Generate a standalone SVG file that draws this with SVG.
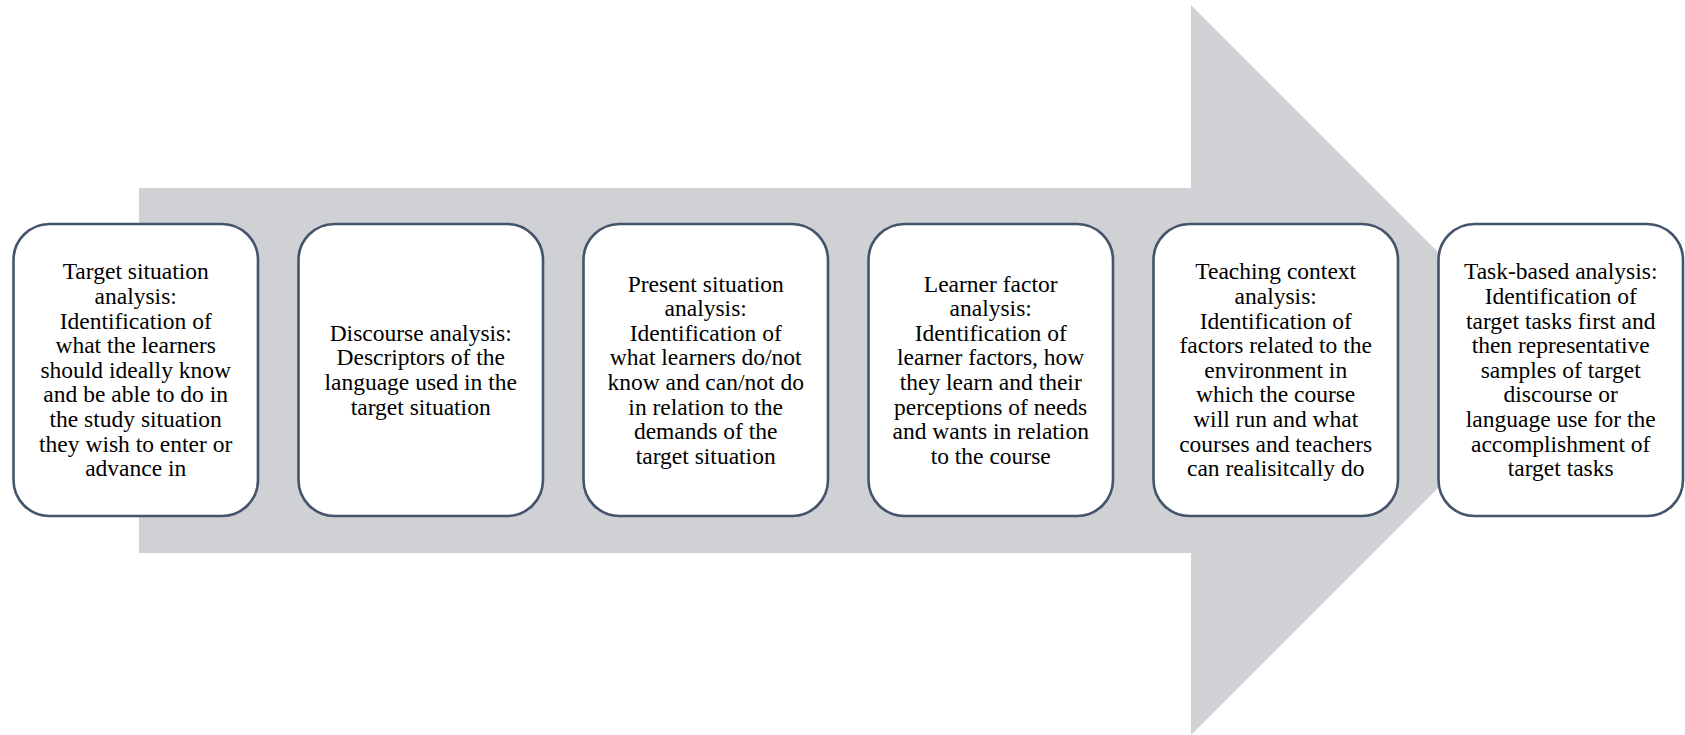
<svg xmlns="http://www.w3.org/2000/svg" width="1685" height="735" viewBox="0 0 1685 735">
<style>
.box{fill:#fff;stroke:#44546A;stroke-width:2.6}
.t{font-size:23.5px;fill:#000;text-anchor:middle}
</style>
<rect width="1685" height="735" fill="#fff"/>
<g id="connectors">
<polygon points="139,188 1191,188 1191,5 1556,370 1191,735 1191,553 139,553" fill="#CFD1D5"/>
</g>
<g font-family="Liberation Serif, Times New Roman, serif">
<g id="node1">
<rect class="box" x="13.5" y="224" width="244.5" height="292" rx="36"/>
<text class="t" x="135.7" y="279.3"><tspan x="135.7">Target situation</tspan><tspan x="135.7" dy="24.6">analysis:</tspan><tspan x="135.7" dy="24.6">Identification of</tspan><tspan x="135.7" dy="24.6">what the learners</tspan><tspan x="135.7" dy="24.6">should ideally know</tspan><tspan x="135.7" dy="24.6">and be able to do in</tspan><tspan x="135.7" dy="24.6">the study situation</tspan><tspan x="135.7" dy="24.6">they wish to enter or</tspan><tspan x="135.7" dy="24.6">advance in</tspan></text>
</g>
<g id="node2">
<rect class="box" x="298.5" y="224" width="244.5" height="292" rx="36"/>
<text class="t" x="420.7" y="340.8"><tspan x="420.7">Discourse analysis:</tspan><tspan x="420.7" dy="24.6">Descriptors of the</tspan><tspan x="420.7" dy="24.6">language used in the</tspan><tspan x="420.7" dy="24.6">target situation</tspan></text>
</g>
<g id="node3">
<rect class="box" x="583.5" y="224" width="244.5" height="292" rx="36"/>
<text class="t" x="705.7" y="291.6"><tspan x="705.7">Present situation</tspan><tspan x="705.7" dy="24.6">analysis:</tspan><tspan x="705.7" dy="24.6">Identification of</tspan><tspan x="705.7" dy="24.6">what learners do/not</tspan><tspan x="705.7" dy="24.6">know and can/not do</tspan><tspan x="705.7" dy="24.6">in relation to the</tspan><tspan x="705.7" dy="24.6">demands of the</tspan><tspan x="705.7" dy="24.6">target situation</tspan></text>
</g>
<g id="node4">
<rect class="box" x="868.5" y="224" width="244.5" height="292" rx="36"/>
<text class="t" x="990.7" y="291.6"><tspan x="990.7">Learner factor</tspan><tspan x="990.7" dy="24.6">analysis:</tspan><tspan x="990.7" dy="24.6">Identification of</tspan><tspan x="990.7" dy="24.6">learner factors, how</tspan><tspan x="990.7" dy="24.6">they learn and their</tspan><tspan x="990.7" dy="24.6">perceptions of needs</tspan><tspan x="990.7" dy="24.6">and wants in relation</tspan><tspan x="990.7" dy="24.6">to the course</tspan></text>
</g>
<g id="node5">
<rect class="box" x="1153.5" y="224" width="244.5" height="292" rx="36"/>
<text class="t" x="1275.7" y="279.3"><tspan x="1275.7">Teaching context</tspan><tspan x="1275.7" dy="24.6">analysis:</tspan><tspan x="1275.7" dy="24.6">Identification of</tspan><tspan x="1275.7" dy="24.6">factors related to the</tspan><tspan x="1275.7" dy="24.6">environment in</tspan><tspan x="1275.7" dy="24.6">which the course</tspan><tspan x="1275.7" dy="24.6">will run and what</tspan><tspan x="1275.7" dy="24.6">courses and teachers</tspan><tspan x="1275.7" dy="24.6">can realisitcally do</tspan></text>
</g>
<g id="node6">
<rect class="box" x="1438.5" y="224" width="244.5" height="292" rx="36"/>
<text class="t" x="1560.7" y="279.3"><tspan x="1560.7">Task-based analysis:</tspan><tspan x="1560.7" dy="24.6">Identification of</tspan><tspan x="1560.7" dy="24.6">target tasks first and</tspan><tspan x="1560.7" dy="24.6">then representative</tspan><tspan x="1560.7" dy="24.6">samples of target</tspan><tspan x="1560.7" dy="24.6">discourse or</tspan><tspan x="1560.7" dy="24.6">language use for the</tspan><tspan x="1560.7" dy="24.6">accomplishment of</tspan><tspan x="1560.7" dy="24.6">target tasks</tspan></text>
</g>
</g>
</svg>
